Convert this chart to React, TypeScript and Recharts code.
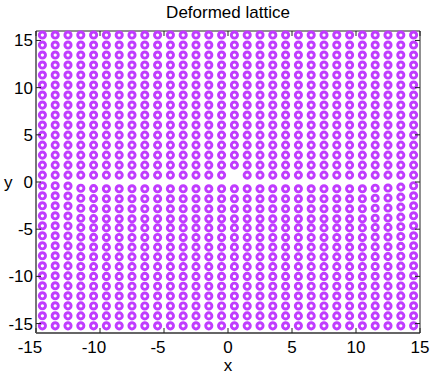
import { ScatterChart, Scatter, XAxis, YAxis } from 'recharts';

// lattice columns (x) and the rows of the upper / lower half as seen at the edge columns
const colX = [
  -14.5, -13.5, -12.5, -11.5, -10.5, -9.5, -8.5, -7.5, -6.5, -5.5, -4.5, -3.5, -2.5, -1.5, -0.5,
  0.5, 1.5, 2.5, 3.5, 4.5, 5.5, 6.5, 7.5, 8.5, 9.5, 10.5, 11.5, 12.5, 13.5, 14.5,
];
const upperRows = [0.73, 1.79, 2.85, 3.91, 4.97, 6.03, 7.09, 8.15, 9.21, 10.27, 11.33, 12.39, 13.45, 14.51, 15.57];
const lowerRows = [-0.4, -1.46, -2.52, -3.58, -4.64, -5.7, -6.76, -7.82, -8.88, -9.94, -11.0, -12.06, -13.12, -14.18, -15.24];
// how far the lower half is pushed down next to the gap, per column
const lowerShift = [
  0, 0, 0.03, 0.26, 0.3, 0.32, 0.32, 0.32, 0.32, 0.32, 0.32, 0.32, 0.32, 0.32, 0.32,
  0.32, 0.32, 0.32, 0.32, 0.32, 0.32, 0.32, 0.32, 0.32, 0.32, 0.32, 0.26, 0.24, 0.14, 0,
];
// share of that shift left at each lower row (gap row first)
const shiftByRow = [1, 1, 1, 1, 0.7, 0.55, 0.45, 0.35, 0.28, 0.2, 0.14, 0.08, 0.04, 0.02, 0];
// missing site: column x, index into upperRows
const vacancies = [{ col: 0.5, row: 0 }];
const ticks = [-15, -10, -5, 0, 5, 10, 15];

const DOT = '#c03cff';
const FS = 17;

const points: { x: number; y: number }[] = [];
colX.forEach((x, i) => {
  upperRows.forEach((y, k) => {
    if (vacancies.some((v) => v.col === x && v.row === k)) return;
    points.push({ x, y });
  });
  lowerRows.forEach((y, k) => points.push({ x, y: y - lowerShift[i] * shiftByRow[k] }));
});

const Ring = (props: any) => (
  <circle cx={props.cx} cy={props.cy} r={3.1} fill="none" stroke={DOT} strokeWidth={2.9} />
);
const Nothing = () => <g />;

const BottomTick = ({ x, y, payload }: any) => (
  <g>
    <line x1={x} x2={x} y1={y} y2={y - 5} stroke="#222" />
    <text x={x} y={y + 20} dx={payload.value < 0 ? -6 : 0} textAnchor="middle" fontSize={FS} fill="#000">
      {String(payload.value)}
    </text>
  </g>
);

const LeftTick = ({ x, y, payload }: any) => (
  <g>
    <line x1={x} x2={x + 5} y1={y} y2={y} stroke="#222" />
    <text x={x - 3} y={y + 6} textAnchor="end" fontSize={FS} fill="#000">
      {String(payload.value)}
    </text>
  </g>
);

const TopTick = ({ x, y }: any) => <line x1={x} x2={x} y1={y} y2={y + 5} stroke="#222" />;
const RightTick = ({ x, y }: any) => <line x1={x} x2={x - 5} y1={y} y2={y} stroke="#222" />;

export default function App() {
  return (
    <div style={{ position: 'absolute', left: 0, top: 0, fontFamily: '"Liberation Sans", Arial, sans-serif' }}>
      <ScatterChart width={436} height={374} margin={{ top: 30, right: 15, bottom: 0, left: 0 }}>
        <XAxis
          type="number"
          dataKey="x"
          domain={[-15, 15]}
          ticks={ticks}
          interval={0}
          height={41}
          tickSize={0}
          tickMargin={0}
          tickLine={false}
          tick={<BottomTick />}
          axisLine={{ stroke: '#666', strokeWidth: 2 }}
          label={{ value: 'x', position: 'insideBottom', offset: 3, fontSize: FS, fill: '#000' }}
        />
        <YAxis
          type="number"
          dataKey="y"
          domain={[-16, 16]}
          ticks={ticks}
          interval={0}
          width={36}
          tickSize={0}
          tickMargin={0}
          tickLine={false}
          tick={<LeftTick />}
          axisLine={{ stroke: '#777', strokeWidth: 2 }}
          label={{ value: 'y', position: 'insideLeft', offset: 4, fontSize: FS, fill: '#000' }}
        />
        <XAxis
          xAxisId="top"
          orientation="top"
          type="number"
          dataKey="x"
          domain={[-15, 15]}
          ticks={ticks}
          interval={0}
          height={1}
          tickSize={0}
          tickMargin={0}
          tickLine={false}
          tick={<TopTick />}
          axisLine={{ stroke: '#222' }}
          label={{ value: 'Deformed lattice', position: 'top', offset: 12, fontSize: FS, fill: '#000' }}
        />
        <YAxis
          yAxisId="right"
          orientation="right"
          type="number"
          dataKey="y"
          domain={[-16, 16]}
          ticks={ticks}
          interval={0}
          width={1}
          tickSize={0}
          tickMargin={0}
          tickLine={false}
          tick={<RightTick />}
          axisLine={{ stroke: '#222' }}
        />
        <Scatter data={points} shape={<Ring />} isAnimationActive={false} />
        <Scatter data={points} xAxisId="top" yAxisId="right" shape={<Nothing />} isAnimationActive={false} />
      </ScatterChart>
    </div>
  );
}
